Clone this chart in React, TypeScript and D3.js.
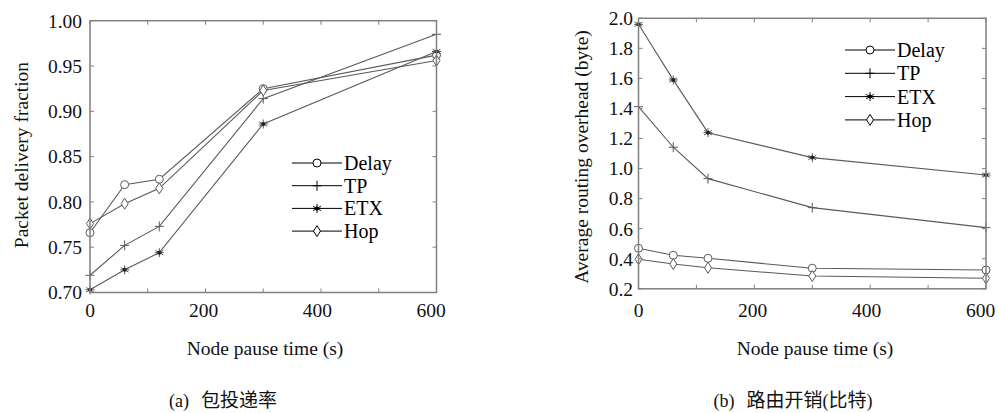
import React from "react";
import * as d3 from "d3";

const pauseTimes = [0, 60, 120, 300, 600];
const seriesNames = ["Delay", "TP", "ETX", "Hop"];
const markerTypes = ["circle", "plus", "star", "diamond"];

const pdfDelay = [0.766, 0.819, 0.825, 0.925, 0.962];
const pdfTP = [0.719, 0.752, 0.773, 0.914, 0.985];
const pdfETX = [0.703, 0.725, 0.744, 0.886, 0.966];
const pdfHop = [0.776, 0.798, 0.815, 0.923, 0.956];

const ovhDelay = [0.47, 0.423, 0.403, 0.337, 0.325];
const ovhTP = [1.412, 1.142, 0.933, 0.74, 0.607];
const ovhETX = [1.96, 1.59, 1.239, 1.073, 0.957];
const ovhHop = [0.397, 0.365, 0.34, 0.285, 0.27];

const xTicks = [0, 100, 200, 300, 400, 500, 600];
const xTickLabels = [0, 200, 400, 600];
const pdfTicks = [0.7, 0.75, 0.8, 0.85, 0.9, 0.95, 1.0];
const ovhTicks = [0.2, 0.4, 0.6, 0.8, 1.0, 1.2, 1.4, 1.6, 1.8, 2.0];

const SERIF = "'Liberation Serif', 'Times New Roman', serif";
const CJK = "'Noto Sans CJK SC', sans-serif";

function Marker({ type, x, y, color, legend }: any) {
  const sw = 1;
  if (type === "circle") {
    return <circle cx={x} cy={y} r={4} fill="white" stroke={color} strokeWidth={sw} />;
  }
  if (type === "diamond") {
    return (
      <path
        d={`M${x},${y - 5.5} L${x + 3.5},${y} L${x},${y + 5.5} L${x - 3.5},${y} Z`}
        fill="white"
        stroke={color}
        strokeWidth={sw}
      />
    );
  }
  if (type === "plus") {
    return (
      <path
        d={`M${x - 4.5},${y} L${x + 4.5},${y} M${x},${y - 5} L${x},${y + 5}`}
        stroke={color}
        strokeWidth={sw}
        fill="none"
      />
    );
  }
  const r = 4.5;
  const d = [0, 60, 120].map((a) => {
    const rad = ((a + 90) * Math.PI) / 180;
    const dx = Math.cos(rad) * r;
    const dy = Math.sin(rad) * r;
    return `M${x - dx},${y - dy} L${x + dx},${y + dy}`;
  }).join(" ") + ` M${x - r},${y} L${x + r},${y}`;
  return (
    <g>
      <path d={d} stroke={color} strokeWidth={sw} fill="none" />
      <circle cx={x} cy={y} r={2} fill={legend ? "#000" : "#222"} />
    </g>
  );
}

function Panel({ left, right, top, bottom, yDomain, yTicks, yFmt, data, legendX, legendY, legendGap, labelEnd, yLabel, yLabelX, yLabelY, xTitleX, caption, captionX }: any) {
  const x = d3.scaleLinear().domain([0, 600]).range([left, right]);
  const y = d3.scaleLinear().domain(yDomain).range([bottom, top]);
  const line = d3.line<number>().x((_, i) => x(pauseTimes[i])).y((v) => y(v));
  const frame = "#808080";
  const lineColor = "#5a5a5a";
  const tl = 4;
  return (
    <g>
      {data.map((vals: number[], si: number) => (
        <path key={"l" + si} d={line(vals) || ""} fill="none" stroke={lineColor} strokeWidth={1.1} />
      ))}
      {data.map((vals: number[], si: number) =>
        vals.map((v, i) => (
          <Marker key={`m${si}-${i}`} type={markerTypes[si]} x={x(pauseTimes[i])} y={y(v)} color={lineColor} />
        ))
      )}
      <rect x={left} y={top} width={right - left} height={bottom - top} fill="none" stroke={frame} strokeWidth={1.5} />
      {xTicks.map((t) => (
        <g key={"xt" + t}>
          <line x1={x(t)} x2={x(t)} y1={bottom} y2={bottom - tl} stroke={frame} strokeWidth={1} />
          <line x1={x(t)} x2={x(t)} y1={top} y2={top + tl} stroke={frame} strokeWidth={1} />
        </g>
      ))}
      {yTicks.map((t: number) => (
        <g key={"yt" + t}>
          <line x1={left} x2={left + tl} y1={y(t)} y2={y(t)} stroke={frame} strokeWidth={1} />
          <line x1={right} x2={right - tl} y1={y(t)} y2={y(t)} stroke={frame} strokeWidth={1} />
          <text x={labelEnd} y={y(t)} dy="0.35em" textAnchor="end" fontFamily={SERIF} fontSize={19.5} fill="#111">
            {yFmt(t)}
          </text>
        </g>
      ))}
      {xTickLabels.map((t) => (
        <text key={"xl" + t} x={x(t) - t * 0.009} y={317} textAnchor="middle" fontFamily={SERIF} fontSize={19.5} fill="#111">
          {t}
        </text>
      ))}
      <text x={xTitleX} y={355} textAnchor="middle" fontFamily={SERIF} fontSize={19.5} fill="#111">
        Node pause time (s)
      </text>
      <text
        transform={`translate(${yLabelX},${yLabelY}) rotate(-90)`}
        textAnchor="middle"
        fontFamily={SERIF}
        fontSize={19.5}
        fill="#111"
      >
        {yLabel}
      </text>
      {seriesNames.map((n, i) => {
        const ly = legendY + i * legendGap;
        return (
          <g key={"lg" + n}>
            <line x1={legendX} x2={legendX + 50} y1={ly} y2={ly} stroke="#000" strokeWidth={1} />
            <Marker type={markerTypes[i]} x={legendX + 25} y={ly} color="#000" legend />
            <text x={legendX + 52} y={ly} dy="0.35em" fontFamily={SERIF} fontSize={20} fill="#000">
              {n}
            </text>
          </g>
        );
      })}
      <text x={captionX} y={407} textAnchor="middle" fill="#111">
        <tspan fontFamily={SERIF} fontSize={18}>{caption[0]}</tspan>
        <tspan dx={12} fontFamily={CJK} fontSize={19}>{caption[1]}</tspan>
        {caption[2] ? <tspan fontFamily={SERIF} fontSize={18}>(</tspan> : null}
        {caption[2] ? <tspan fontFamily={CJK} fontSize={19}>{caption[2]}</tspan> : null}
        {caption[2] ? <tspan fontFamily={SERIF} fontSize={18}>)</tspan> : null}
      </text>
    </g>
  );
}

export default function App() {
  return (
    <svg width={999} height={413} style={{ position: "absolute", left: 0, top: 0, background: "#fff" }}>
      <rect x={0} y={0} width={999} height={413} fill="#fff" />
      <Panel
        left={90}
        right={436.5}
        top={20.7}
        bottom={292.5}
        yDomain={[0.7, 1.0]}
        yTicks={pdfTicks}
        yFmt={(t: number) => t.toFixed(2)}
        data={[pdfDelay, pdfTP, pdfETX, pdfHop]}
        legendX={292}
        legendY={163}
        legendGap={22.7}
        labelEnd={82}
        yLabel="Packet delivery fraction"
        yLabelX={28}
        yLabelY={155}
        xTitleX={265}
        caption={["(a)", "包投递率", null]}
        captionX={223}
      />
      <Panel
        left={638.5}
        right={986}
        top={18.3}
        bottom={288.8}
        yDomain={[0.2, 2.0]}
        yTicks={ovhTicks}
        yFmt={(t: number) => t.toFixed(1)}
        data={[ovhDelay, ovhTP, ovhETX, ovhHop]}
        legendX={845}
        legendY={50}
        legendGap={23.3}
        labelEnd={633}
        yLabel="Average routing overhead (byte)"
        yLabelX={588}
        yLabelY={157}
        xTitleX={815}
        caption={["(b)", "路由开销", "比特"]}
        captionX={793}
      />
    </svg>
  );
}
